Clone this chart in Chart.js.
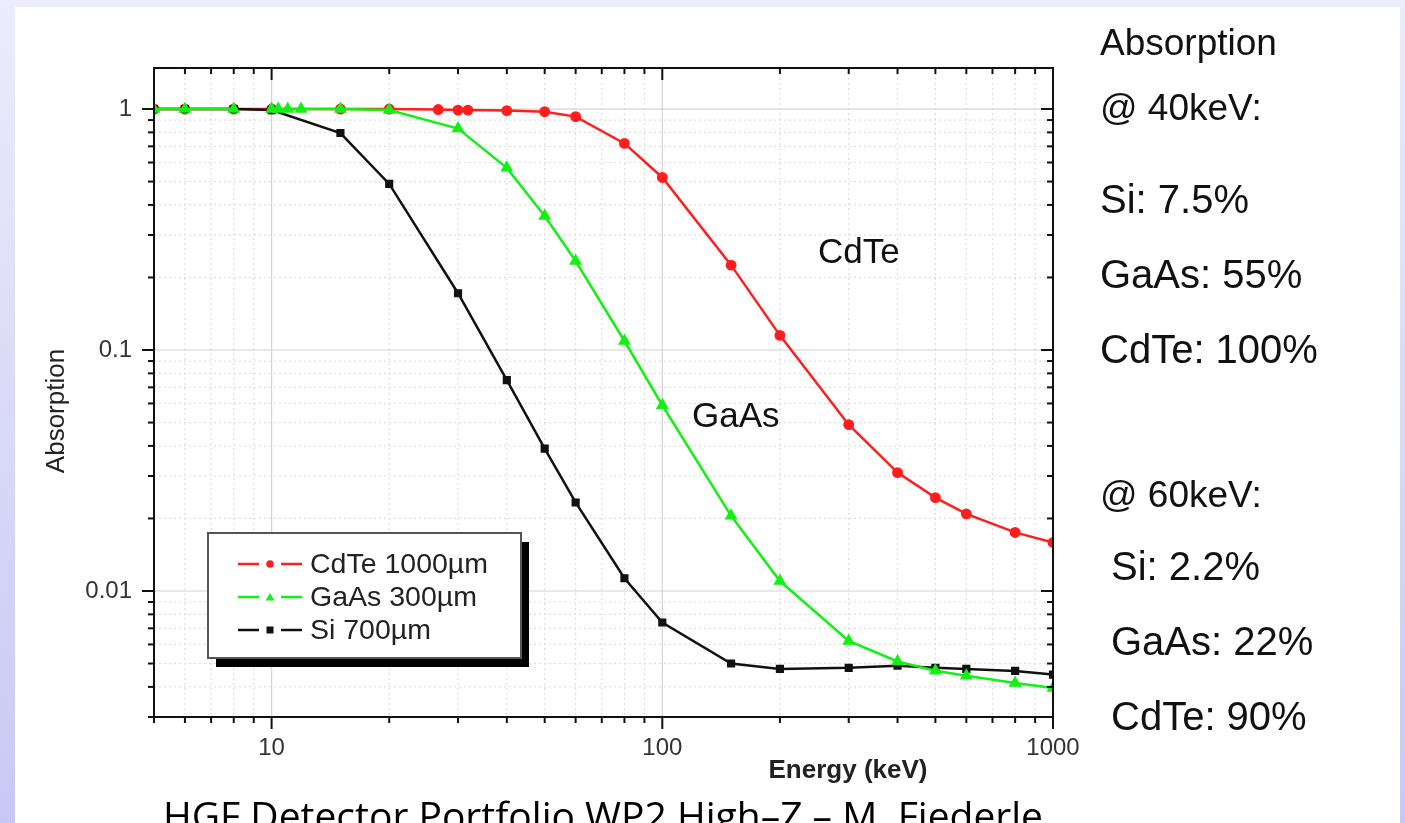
<!DOCTYPE html>
<html>
<head>
<meta charset="utf-8">
<script src="https://cdn.jsdelivr.net/npm/chart.js@4.4.1/dist/chart.umd.min.js"></script>
<style>
  html, body { margin: 0; padding: 0; }
  body {
    width: 1405px; height: 823px; overflow: hidden; position: relative;
    background: linear-gradient(#ececfb, #c8c8f5);
    font-family: "Liberation Sans", Arial, sans-serif;
  }
  #sheet { position: absolute; left: 15px; top: 7px; width: 1385px; height: 816px; background: #fff; }
  #wrap { position: absolute; left: 0; top: 0; width: 1405px; height: 823px; }
  .note { position: absolute; line-height: 1; color: #111; white-space: pre; }
  .h { font-size: 37px; }
  .v { font-size: 40px; }
  #footer {
    position: absolute; left: 0; width: 1206px; top: 795px; text-align: center;
    font-family: "Open Sans", sans-serif; font-size: 39px; line-height: 1; color: #000; white-space: nowrap;
  }
</style>
</head>
<body>
<div id="sheet"></div>
<div id="wrap"><canvas id="myChart"></canvas></div>

<div class="note h" style="left:1100px; top:24px;">Absorption</div>
<div class="note h" style="left:1100px; top:89px;">@ 40keV:</div>
<div class="note v" style="left:1100px; top:179px;">Si: 7.5%</div>
<div class="note v" style="left:1100px; top:254px;">GaAs: 55%</div>
<div class="note v" style="left:1100px; top:329px;">CdTe: 100%</div>
<div class="note h" style="left:1100px; top:476px;">@ 60keV:</div>
<div class="note v" style="left:1111px; top:546px;">Si: 2.2%</div>
<div class="note v" style="left:1111px; top:621px;">GaAs: 22%</div>
<div class="note v" style="left:1111px; top:696px;">CdTe: 90%</div>

<div id="footer">HGF Detector Portfolio WP2 High–Z – M. Fiederle</div>

<script>
// absorption vs photon energy (keV)
const cdteEnergy = [5, 6, 8, 10, 15, 20, 26.7, 30, 31.8, 40, 50, 60, 80, 100, 150, 200, 300, 400, 500, 600, 800, 1000];
const cdteAbs    = [1, 1, 1, 1, 1, 1, 0.995, 0.99, 0.99, 0.985, 0.975, 0.93, 0.72, 0.52, 0.225, 0.115, 0.049, 0.031, 0.0244, 0.0209, 0.0175, 0.0159];

const gaasEnergy = [5, 6, 8, 10, 10.4, 11, 11.9, 15, 20, 30, 40, 50, 60, 80, 100, 150, 200, 300, 400, 500, 600, 800, 1000];
const gaasAbs    = [1, 1, 1, 1, 1, 1, 1, 1, 0.99, 0.83, 0.57, 0.36, 0.234, 0.109, 0.059, 0.0205, 0.011, 0.0062, 0.0051, 0.00467, 0.00445, 0.00415, 0.00396];

const siEnergy = [5, 6, 8, 10, 15, 20, 30, 40, 50, 60, 80, 100, 150, 200, 300, 400, 500, 600, 800, 1000];
const siAbs    = [1, 1, 1, 0.99, 0.795, 0.489, 0.172, 0.075, 0.039, 0.0233, 0.0113, 0.0074, 0.005, 0.00475, 0.0048, 0.0049, 0.0048, 0.00475, 0.00466, 0.0045];

const seriesLabels = ['CdTe 1000µm', 'GaAs 300µm', 'Si 700µm'];

const xMajor = [10, 100, 1000];
const xLabels = ['10', '100', '1000'];
const yMajor = [0.01, 0.1, 1];
const yLabels = ['0.01', '0.1', '1'];

const X_MIN = 5, X_MAX = 1000, Y_MIN = 0.003, Y_MAX = 1.48;

function logTicks(min, max) {
  const out = [];
  for (let p = Math.floor(Math.log10(min)); p <= Math.ceil(Math.log10(max)); p++) {
    for (let m = 1; m <= 9; m++) {
      const v = +(m * Math.pow(10, p)).toPrecision(6);
      if (v >= min * 0.9999 && v <= max * 1.0001) out.push(v);
    }
  }
  return out;
}
const majorIndex = (v, list) => list.findIndex(m => Math.abs(v / m - 1) < 1e-6);

const xTicks = logTicks(X_MIN, X_MAX);
const yTicks = logTicks(Y_MIN, Y_MAX);

const pts = (xs, ys) => xs.map((x, i) => ({ x: x, y: ys[i] }));

const RED = '#ff1e1e', GREEN = '#14f014', BLACK = '#111111';

function line(ctx, x1, y1, x2, y2) {
  ctx.beginPath(); ctx.moveTo(x1, y1); ctx.lineTo(x2, y2); ctx.stroke();
}

const frame = {
  id: 'frame',
  beforeDatasetsDraw(chart) {
    const { ctx, chartArea: a, scales: { x, y } } = chart;
    ctx.save();
    ctx.lineWidth = 1.2;
    xTicks.forEach(v => {
      const px = x.getPixelForValue(v);
      const major = majorIndex(v, xMajor) >= 0;
      ctx.strokeStyle = major ? '#d4d4d4' : '#dedede';
      ctx.setLineDash(major ? [] : [2, 3]);
      line(ctx, px, a.top, px, a.bottom);
    });
    yTicks.forEach(v => {
      const py = y.getPixelForValue(v);
      const major = majorIndex(v, yMajor) >= 0;
      ctx.strokeStyle = major ? '#d4d4d4' : '#dedede';
      ctx.setLineDash(major ? [] : [2, 3]);
      line(ctx, a.left, py, a.right, py);
    });
    ctx.restore();
  },
  afterDatasetsDraw(chart) {
    const { ctx, chartArea: a, scales: { x, y } } = chart;
    ctx.save();
    // frame
    ctx.strokeStyle = '#111';
    ctx.lineWidth = 2;
    ctx.strokeRect(a.left, a.top, a.right - a.left, a.bottom - a.top);
    // ticks: outward on bottom/left, inward on top/right
    xTicks.forEach(v => {
      const px = x.getPixelForValue(v);
      const L = majorIndex(v, xMajor) >= 0 ? 12 : 6;
      line(ctx, px, a.bottom, px, a.bottom + L);
      line(ctx, px, a.top, px, a.top + L);
    });
    yTicks.forEach(v => {
      const py = y.getPixelForValue(v);
      const L = majorIndex(v, yMajor) >= 0 ? 12 : 6;
      line(ctx, a.left - L, py, a.left, py);
      line(ctx, a.right - L, py, a.right, py);
    });

    // axis titles
    ctx.fillStyle = '#222';
    ctx.textAlign = 'center';
    ctx.textBaseline = 'middle';
    ctx.font = 'bold 26px "Liberation Sans", Arial, sans-serif';
    ctx.fillText('Energy (keV)', 848, 771);
    ctx.save();
    ctx.translate(57, 411);
    ctx.rotate(-Math.PI / 2);
    ctx.font = '26px "Liberation Sans", Arial, sans-serif';
    ctx.fillText('Absorption', 0, 0);
    ctx.restore();

    // curve names inside the plot
    ctx.fillStyle = '#111';
    ctx.textAlign = 'left';
    ctx.textBaseline = 'alphabetic';
    ctx.font = '35px "Liberation Sans", Arial, sans-serif';
    ctx.fillText('CdTe', a.left + 664, a.top + 195);
    ctx.fillText('GaAs', a.left + 538, a.top + 359);

    // legend box with drop shadow
    const bx = a.left + 54, by = a.top + 465, bw = 313, bh = 125;
    ctx.fillStyle = '#000';
    ctx.fillRect(bx + 8, by + 9, bw, bh);
    ctx.fillStyle = '#fff';
    ctx.fillRect(bx, by, bw, bh);
    ctx.strokeStyle = '#555';
    ctx.lineWidth = 2;
    ctx.strokeRect(bx, by, bw, bh);

    const order = [0, 1, 2];
    order.forEach((di, row) => {
      const ds = chart.data.datasets[di];
      const cy = by + 31 + row * 33;
      const lx = bx + 30;
      ctx.strokeStyle = ds.borderColor;
      ctx.lineWidth = 2.5;
      line(ctx, lx, cy, lx + 21, cy);
      line(ctx, lx + 43, cy, lx + 64, cy);
      ctx.fillStyle = ds.borderColor;
      ctx.beginPath();
      if (ds.pointStyle === 'triangle') {
        ctx.moveTo(lx + 32, cy - 4); ctx.lineTo(lx + 36.5, cy + 3.5); ctx.lineTo(lx + 27.5, cy + 3.5);
        ctx.closePath();
      } else if (ds.pointStyle === 'rect') {
        ctx.rect(lx + 28.5, cy - 3.5, 7, 7);
      } else {
        ctx.arc(lx + 32, cy, 3.8, 0, Math.PI * 2);
      }
      ctx.fill();
      ctx.fillStyle = '#222';
      ctx.textBaseline = 'middle';
      ctx.font = '28.5px "Liberation Sans", Arial, sans-serif';
      ctx.fillText(ds.label, bx + 102, cy + 1);
    });
    ctx.restore();
  }
};

const ctx = document.getElementById('myChart');

const chart = new Chart(ctx, {
  type: 'line',
  data: {
    datasets: [
      {
        label: seriesLabels[0],
        data: pts(cdteEnergy, cdteAbs),
        borderColor: RED,
        backgroundColor: RED,
        pointStyle: 'circle',
        pointRadius: 4.2,
        borderWidth: 2.5,
        order: 2
      },
      {
        label: seriesLabels[1],
        data: pts(gaasEnergy, gaasAbs),
        borderColor: GREEN,
        backgroundColor: GREEN,
        pointStyle: 'triangle',
        pointRadius: 5,
        borderWidth: 2.5,
        order: 0,
        segment: {
          borderColor: c => (c.p0.parsed.x === 8 ? 'rgba(0,0,0,0)' : undefined)
        }
      },
      {
        label: seriesLabels[2],
        data: pts(siEnergy, siAbs),
        borderColor: BLACK,
        backgroundColor: BLACK,
        pointStyle: 'rect',
        pointRadius: 4,
        borderWidth: 2.5,
        order: 1
      }
    ]
  },
  options: {
    responsive: true,
    maintainAspectRatio: false,
    animation: false,
    layout: { padding: { left: 0, right: 352, top: 68, bottom: 0 } },
    elements: { line: { tension: 0 }, point: { borderWidth: 0 } },
    plugins: { legend: { display: false }, tooltip: { enabled: false } },
    scales: {
      x: {
        type: 'logarithmic',
        min: X_MIN,
        max: X_MAX,
        grid: { display: false, drawTicks: false },
        border: { display: false },
        afterBuildTicks: axis => { axis.ticks = xTicks.map(v => ({ value: v })); },
        afterFit: axis => { axis.height = 106; },
        ticks: {
          autoSkip: false,
          maxRotation: 0,
          padding: 17,
          color: '#333',
          font: { family: '"Liberation Sans", Arial, sans-serif', size: 24 },
          callback: v => { const i = majorIndex(v, xMajor); return i < 0 ? '' : xLabels[i]; }
        }
      },
      y: {
        type: 'logarithmic',
        min: Y_MIN,
        max: Y_MAX,
        grid: { display: false, drawTicks: false },
        border: { display: false },
        afterBuildTicks: axis => { axis.ticks = yTicks.map(v => ({ value: v })); },
        afterFit: axis => { axis.width = 154; },
        ticks: {
          autoSkip: false,
          padding: 22,
          color: '#333',
          font: { family: '"Liberation Sans", Arial, sans-serif', size: 24 },
          callback: v => { const i = majorIndex(v, yMajor); return i < 0 ? '' : yLabels[i]; }
        }
      }
    }
  },
  plugins: [frame]
});
</script>
</body>
</html>
